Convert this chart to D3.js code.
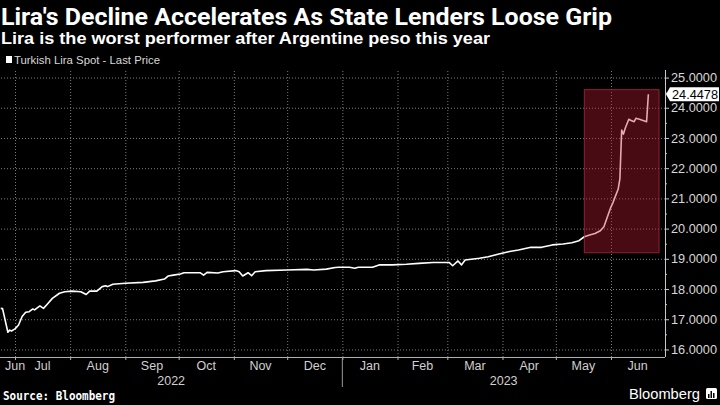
<!DOCTYPE html>
<html><head><meta charset="utf-8">
<script src="https://cdn.jsdelivr.net/npm/d3@7"></script>
<style>body{margin:0;background:#000;}svg{display:block}</style>
</head><body>
<svg id="c" width="720" height="405"></svg>
<script>
// ---------------- DATA ----------------
const titleText = "Lira's Decline Accelerates As State Lenders Loose Grip";
const subtitleText = "Lira is the worst performer after Argentine peso this year";
const legendLabel = "Turkish Lira Spot - Last Price";
const sourceText = "Source: Bloomberg";
const brandText = "Bloomberg";
const lastValueLabel = "24.4478";

const dates = [
 "2022-06-23","2022-06-24","2022-06-27","2022-06-28","2022-06-29","2022-07-01","2022-07-03","2022-07-05",
 "2022-07-07","2022-07-09","2022-07-11","2022-07-12","2022-07-15","2022-07-17","2022-07-19","2022-07-22",
 "2022-07-26","2022-07-29","2022-08-02","2022-08-07","2022-08-10","2022-08-12","2022-08-16","2022-08-19",
 "2022-08-21","2022-08-22","2022-08-25","2022-09-01","2022-09-11","2022-09-18","2022-09-23","2022-09-25",
 "2022-09-28","2022-10-02","2022-10-04","2022-10-13","2022-10-15","2022-10-17","2022-10-23","2022-10-26",
 "2022-11-02","2022-11-04","2022-11-06","2022-11-09","2022-11-11","2022-11-13","2022-11-19","2022-12-01",
 "2022-12-12","2022-12-16","2022-12-23","2022-12-28","2022-12-30","2023-01-05","2023-01-08","2023-01-10",
 "2023-01-18","2023-01-22","2023-01-29","2023-02-06","2023-02-13","2023-02-21","2023-03-02","2023-03-04",
 "2023-03-07","2023-03-09","2023-03-11","2023-03-19","2023-03-24","2023-03-30","2023-04-05","2023-04-10",
 "2023-04-17","2023-04-23","2023-04-29","2023-05-05","2023-05-10","2023-05-14","2023-05-17","2023-05-20",
 "2023-05-23","2023-05-26","2023-05-28","2023-05-30","2023-06-01","2023-06-02","2023-06-03","2023-06-05",
 "2023-06-06","2023-06-07","2023-06-08","2023-06-09","2023-06-11","2023-06-12","2023-06-14","2023-06-15",
 "2023-06-17","2023-06-21","2023-06-22"
];
const values = [
 17.36,17.35,16.57,16.64,16.61,16.68,16.81,17.09,
 17.23,17.25,17.34,17.31,17.44,17.36,17.49,17.69,
 17.86,17.91,17.93,17.91,17.82,17.93,17.93,18.08,
 18.11,18.08,18.16,18.19,18.22,18.27,18.33,18.43,
 18.46,18.50,18.54,18.54,18.46,18.55,18.53,18.57,
 18.61,18.57,18.43,18.54,18.44,18.57,18.61,18.63,
 18.65,18.63,18.66,18.71,18.72,18.72,18.69,18.72,
 18.72,18.80,18.80,18.82,18.85,18.88,18.88,18.77,
 18.93,18.80,18.96,19.02,19.07,19.16,19.24,19.29,
 19.38,19.38,19.46,19.49,19.53,19.60,19.73,19.79,
 19.84,19.93,20.06,20.39,20.72,20.84,21.00,21.30,
 21.65,23.26,23.13,23.32,23.62,23.59,23.54,23.65,
 23.62,23.54,24.4478
];
const yTicks = [16,17,18,19,20,21,22,23,24,25];
const yMinorTicks = [16.5,17.5,18.5,19.5,20.5,21.5,22.5,23.5,24.5];
const monthLabels = ["Jun","Jul","Aug","Sep","Oct","Nov","Dec","Jan","Feb","Mar","Apr","May","Jun"];
const monthStarts = ["2022-06-01","2022-07-01","2022-08-01","2022-09-01","2022-10-01","2022-11-01","2022-12-01",
 "2023-01-01","2023-02-01","2023-03-01","2023-04-01","2023-05-01","2023-06-01"];
const yearLabels = ["2022","2023"];
const yearStarts = ["2022-01-01","2023-01-01"];
const highlightDates = ["2023-05-17","2023-06-28"];
const highlightValues = [19.2, 24.6];

// ---------------- CHART ----------------
const parse = d3.timeParse("%Y-%m-%d");
const data = dates.map((d,i)=>({date:parse(d), value:values[i]}));
const svg = d3.select("#c");
const W = 720, H = 405;
const plot = {left:0, right:665, top:70, bottom:357};

const x = d3.scaleTime().domain([parse("2022-07-01"), parse("2023-06-01")]).range([15, 611]);
const y = d3.scaleLinear().domain([15.75, 25.25]).range([plot.bottom, plot.top]);

svg.append("rect").attr("width",W).attr("height",H).attr("fill","#000");

// Title / subtitle
svg.append("text").text(titleText).attr("x",1).attr("y",25)
  .attr("font-family","'Liberation Sans Narrow','Roboto','Liberation Sans',sans-serif")
  .attr("font-weight","bold").attr("font-size",24).attr("fill","#fff")
  .attr("textLength",611).attr("lengthAdjust","spacingAndGlyphs");
svg.append("text").text(subtitleText).attr("x",1).attr("y",44)
  .attr("font-family","'Liberation Sans','Arial',sans-serif")
  .attr("font-weight","bold").attr("font-size",16).attr("fill","#fff")
  .attr("textLength",489).attr("lengthAdjust","spacingAndGlyphs");

// Legend
svg.append("rect").attr("x",6).attr("y",56).attr("width",6).attr("height",7).attr("fill","#fff");
svg.append("text").text(legendLabel).attr("x",14).attr("y",64)
  .attr("font-family","'Liberation Sans Narrow','Liberation Sans',sans-serif")
  .attr("font-size",11).attr("fill","#d8d8d8")
  .attr("textLength",146).attr("lengthAdjust","spacingAndGlyphs");

// Grid
const monthTicks = monthStarts.slice(1).map(parse);
const grid = svg.append("g");
grid.append("g").attr("transform",`translate(0,${plot.bottom})`)
  .call(d3.axisBottom(x).tickValues(monthTicks).tickSize(-(plot.bottom-plot.top)).tickFormat(""))
  .call(g=>g.select(".domain").remove())
  .call(g=>g.selectAll("line").attr("stroke","#7c7c7c").attr("stroke-dasharray","1,2"));
grid.append("g").attr("transform",`translate(${plot.right},0)`)
  .call(d3.axisLeft(y).tickValues(yTicks).tickSize(plot.right-plot.left).tickFormat(""))
  .call(g=>g.select(".domain").remove())
  .call(g=>g.selectAll("line").attr("stroke","#7c7c7c").attr("stroke-dasharray","1,2"));

// Line
const line = d3.line().x(d=>x(d.date)).y(d=>y(d.value));
svg.append("path").datum(data).attr("d",line).attr("fill","none")
  .attr("stroke","#fff").attr("stroke-width",1.6).attr("stroke-linejoin","round");

// Highlight box
const hx0 = x(parse(highlightDates[0])), hx1 = x(parse(highlightDates[1]));
const hy0 = y(highlightValues[1]), hy1 = y(highlightValues[0]);
svg.append("rect").attr("x",hx0).attr("y",hy0).attr("width",hx1-hx0).attr("height",hy1-hy0)
  .attr("fill","rgb(190,28,50)").attr("fill-opacity",0.38)
  .attr("stroke","rgb(170,40,58)").attr("stroke-opacity",0.8).attr("stroke-width",1);

// Bottom axis
const xa = svg.append("g").attr("transform",`translate(0,${plot.bottom})`)
  .call(d3.axisBottom(x).tickValues(monthTicks).tickSize(3).tickFormat(""));
xa.select(".domain").attr("d",`M${plot.left},0.5H${plot.right}`).attr("stroke","#b0b0b0");
xa.selectAll("line").attr("stroke","#b0b0b0");

const labelFont = "'Liberation Sans','Arial',sans-serif";
const mStarts = monthStarts.map(parse);
monthLabels.forEach((lab,i)=>{
  const s = Math.max(plot.left, x(mStarts[i]));
  const e = Math.min(plot.right, x(d3.timeMonth.offset(mStarts[i],1)));
  const t = svg.append("text").text(lab).attr("y",370)
    .attr("font-family",labelFont).attr("font-size",12.5).attr("fill","#d0d0d0")
    .attr("text-anchor","middle");
  const w = t.node().getComputedTextLength();
  let cx = (s+e)/2;
  cx = Math.max(cx, plot.left+5+w/2);
  t.attr("x",cx);
});
// Year separators and labels
const yStarts = yearStarts.map(parse);
yearLabels.forEach((lab,i)=>{
  const s = Math.max(plot.left, x(yStarts[i]));
  const e = i+1<yStarts.length ? x(yStarts[i+1]) : plot.right;
  svg.append("text").text(lab).attr("x",(s+e)/2).attr("y",385)
    .attr("font-family",labelFont).attr("font-size",12.5).attr("fill","#d0d0d0")
    .attr("text-anchor","middle");
  if (x(yStarts[i])>plot.left){
    svg.append("line").attr("x1",x(yStarts[i])).attr("x2",x(yStarts[i]))
      .attr("y1",plot.bottom).attr("y2",387).attr("stroke","#9a9a9a");
  }
});

// Right axis
const ya = svg.append("g").attr("transform",`translate(${plot.right},0)`)
  .call(d3.axisRight(y).tickValues(yTicks).tickSize(4).tickPadding(2).tickFormat(d3.format(".4f")));
ya.select(".domain").attr("d",`M0.5,${plot.top}V${plot.bottom}`).attr("stroke","#c8c8c8");
ya.selectAll("line").attr("stroke","#c8c8c8");
ya.selectAll("text").attr("font-family",labelFont).attr("font-size",13).attr("fill","#d8d8d8")
  .attr("textLength",46).attr("lengthAdjust","spacingAndGlyphs");
svg.append("g").attr("transform",`translate(${plot.right},0)`)
  .call(d3.axisRight(y).tickValues(yMinorTicks).tickSize(2).tickFormat(""))
  .call(g=>g.select(".domain").remove())
  .call(g=>g.selectAll("line").attr("stroke","#c8c8c8"));

// Last value tag
const ly = y(values[values.length-1]);
svg.append("path")
  .attr("d",`M${plot.right+1},${ly} L${plot.right+5},${ly-7} H719 V${ly+7} H${plot.right+5} Z`)
  .attr("fill","#fff");
svg.append("text").text(lastValueLabel).attr("x",plot.right+7).attr("y",ly).attr("dy","0.35em")
  .attr("font-family",labelFont).attr("font-size",13).attr("fill","#000")
  .attr("textLength",46).attr("lengthAdjust","spacingAndGlyphs");

// Footer
svg.append("text").text(sourceText).attr("x",3).attr("y",400)
  .attr("font-family","'DejaVu Sans Mono','Liberation Mono',monospace").attr("font-weight","bold")
  .attr("font-size",11.5).attr("fill","#fff")
  .attr("textLength",112).attr("lengthAdjust","spacingAndGlyphs");
svg.append("text").text(brandText).attr("x",629).attr("y",399)
  .attr("font-family",labelFont).attr("font-size",14).attr("fill","#fff")
  .attr("textLength",71).attr("lengthAdjust","spacingAndGlyphs");
const ic = svg.append("g").attr("transform","translate(706,388)");
ic.append("rect").attr("width",11).attr("height",11).attr("rx",1.5).attr("fill","#fff");
[[2,6,1.5],[4.5,3,1.5],[7,5,1.5]].forEach(b=>{
  ic.append("rect").attr("x",b[0]).attr("y",b[1]).attr("width",b[2]).attr("height",10-b[1]).attr("fill","#000");
});
</script>
</body></html>
